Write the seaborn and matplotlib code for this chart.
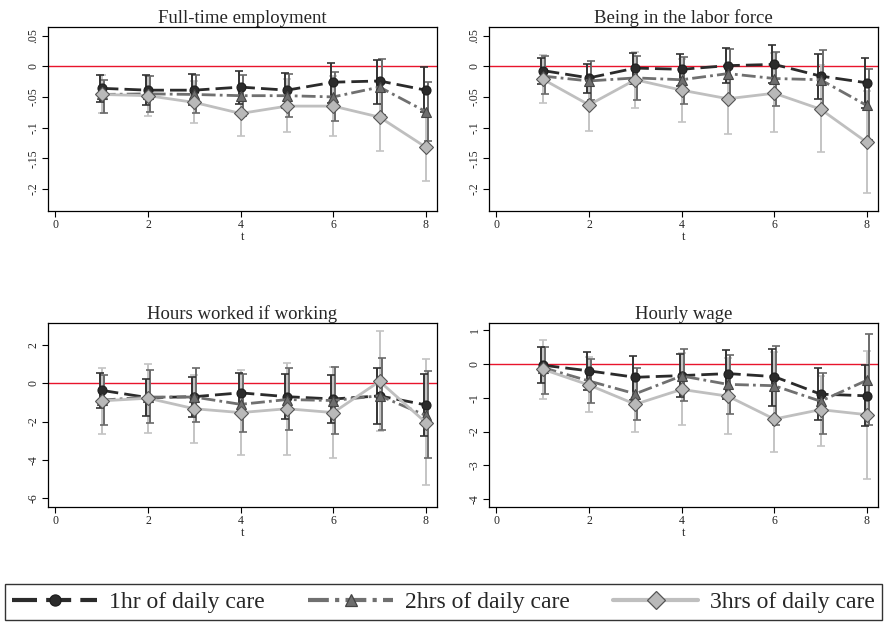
import numpy as np
import pandas as pd
import matplotlib
matplotlib.use('Agg')
import matplotlib.pyplot as plt
import seaborn as sns
from matplotlib.lines import Line2D

# --- dados ---
t = [1, 2, 3, 4, 5, 6, 7, 8]
grupos = ['1hr of daily care', '2hrs of daily care', '3hrs of daily care']
titulos = ['Full-time employment', 'Being in the labor force',
           'Hours worked if working', 'Hourly wage']

# Full-time employment
ft_est = [[-0.036, -0.039, -0.039, -0.034, -0.039, -0.026, -0.024, -0.039],
          [-0.046, -0.045, -0.046, -0.048, -0.048, -0.050, -0.034, -0.074],
          [-0.046, -0.048, -0.059, -0.077, -0.065, -0.065, -0.083, -0.132]]
ft_hi = [[-0.014, -0.015, -0.013, -0.008, -0.011, 0.006, 0.010, -0.001],
         [-0.022, -0.016, -0.014, -0.014, -0.012, -0.010, 0.012, -0.026],
         [-0.015, -0.016, -0.024, -0.040, -0.020, -0.016, -0.028, -0.078]]
ft_lo = [[-0.059, -0.063, -0.064, -0.061, -0.068, -0.060, -0.062, -0.075],
         [-0.076, -0.074, -0.077, -0.081, -0.083, -0.090, -0.080, -0.122],
         [-0.077, -0.081, -0.093, -0.114, -0.108, -0.113, -0.138, -0.187]]

# Being in the labor force
lf_est = [[-0.007, -0.019, -0.003, -0.005, 0.001, 0.003, -0.016, -0.027],
          [-0.016, -0.024, -0.019, -0.022, -0.012, -0.020, -0.022, -0.064],
          [-0.021, -0.063, -0.022, -0.039, -0.053, -0.044, -0.070, -0.124]]
lf_hi = [[0.014, 0.004, 0.022, 0.020, 0.030, 0.035, 0.020, 0.014],
         [0.016, 0.009, 0.016, 0.015, 0.028, 0.024, 0.027, -0.005],
         [0.019, -0.020, 0.023, 0.012, 0.005, 0.022, 0.002, -0.040]]
lf_lo = [[-0.029, -0.043, -0.029, -0.032, -0.027, -0.028, -0.053, -0.068],
         [-0.045, -0.055, -0.055, -0.061, -0.050, -0.065, -0.070, -0.120],
         [-0.060, -0.106, -0.068, -0.091, -0.110, -0.108, -0.140, -0.207]]

# Hours worked if working
hw_est = [[-0.37, -0.75, -0.70, -0.50, -0.70, -0.82, -0.66, -1.13],
          [-0.88, -0.72, -0.72, -1.10, -0.85, -0.90, -0.65, -1.68],
          [-0.92, -0.78, -1.33, -1.53, -1.33, -1.53, 0.10, -2.05]]
hw_hi = [[0.52, 0.23, 0.31, 0.56, 0.49, 0.43, 0.80, 0.49],
         [0.45, 0.67, 0.77, 0.48, 0.80, 0.87, 1.30, 0.65],
         [0.82, 1.03, 0.45, 0.68, 1.08, 0.85, 2.75, 1.25]]
hw_lo = [[-1.27, -1.70, -1.76, -1.55, -1.88, -2.05, -2.12, -2.75],
         [-2.20, -2.05, -2.00, -2.55, -2.45, -2.67, -2.45, -3.90],
         [-2.67, -2.60, -3.10, -3.75, -3.75, -3.90, -2.50, -5.30]]

# Hourly wage
wg_est = [[-0.03, -0.20, -0.39, -0.34, -0.28, -0.37, -0.89, -0.94],
          [-0.10, -0.50, -0.88, -0.35, -0.60, -0.64, -1.10, -0.48],
          [-0.15, -0.62, -1.19, -0.75, -0.95, -1.63, -1.35, -1.50]]
wg_hi = [[0.50, 0.35, 0.25, 0.30, 0.43, 0.46, -0.11, -0.03],
         [0.50, 0.16, -0.10, 0.45, 0.28, 0.55, -0.25, 0.88],
         [0.73, 0.20, -0.28, 0.33, 0.18, 0.35, -0.35, 0.40]]
wg_lo = [[-0.56, -0.76, -1.05, -0.98, -1.02, -1.24, -1.66, -1.84],
         [-0.88, -1.14, -1.67, -1.08, -1.48, -1.82, -2.07, -1.82],
         [-1.03, -1.42, -2.00, -1.80, -2.08, -2.60, -2.43, -3.42]]

yticks = [[0.05, 0, -0.05, -0.1, -0.15, -0.2],
          [0.05, 0, -0.05, -0.1, -0.15, -0.2],
          [2, 0, -2, -4, -6],
          [1, 0, -1, -2, -3, -4]]
ytick_labels = [['.05', '0', '-.05', '-.1', '-.15', '-.2'],
                ['.05', '0', '-.05', '-.1', '-.15', '-.2'],
                ['2', '0', '-2', '-4', '-6'],
                ['1', '0', '-1', '-2', '-3', '-4']]
xticks = [0, 2, 4, 6, 8]

paineis = [(ft_est, ft_lo, ft_hi), (lf_est, lf_lo, lf_hi),
           (hw_est, hw_lo, hw_hi), (wg_est, wg_lo, wg_hi)]
ylims = [(-0.236, 0.064), (-0.236, 0.064), (-6.44, 3.16), (-4.23, 1.23)]

# --- estilo ---
sns.set_style('ticks')
plt.rcParams['font.family'] = ['Liberation Serif', 'DejaVu Serif']

cor_linha = ['#2b2b2b', '#707070', '#bfbfbf']
cor_ci = ['#333333', '#6a6a6a', '#c4c4c4']
marcadores = ['o', '^', 'D']
face = ['#2b2b2b', '#6e6e6e', '#b9b9b9']
borda = ['#1e1e1e', '#444444', '#555555']
tam = [6.5, 7.5, 7.5]
tracos = [(6, 2.2), (5, 1.5, 1, 1.5), (None)]
desloc = [-0.045, 0.045, 0.0]

fig = plt.figure(figsize=(8.86, 6.22), dpi=100)
posicoes = [[0.0542, 0.6608, 0.439, 0.2958],
            [0.5519, 0.6608, 0.439, 0.2958],
            [0.0542, 0.1854, 0.439, 0.2958],
            [0.5519, 0.1854, 0.439, 0.2958]]

for k, (est, lo, hi) in enumerate(paineis):
    ax = fig.add_axes(posicoes[k])
    ax.axhline(0, color='#e8142c', lw=1.0, zorder=1)
    # intervalos de confianca
    for g in [2, 1, 0]:
        lo_a = np.array(lo[g])
        hi_a = np.array(hi[g])
        ax.errorbar(np.array(t) + desloc[g], (lo_a + hi_a) / 2, yerr=(hi_a - lo_a) / 2,
                    fmt='none', ecolor=cor_ci[g], elinewidth=1.4, capsize=3,
                    capthick=1.2, zorder=2)
    # linhas com marcadores
    for g in [1, 0, 2]:
        df = pd.DataFrame({'t': t, 'est': est[g]})
        sns.lineplot(data=df, x='t', y='est', ax=ax, color=cor_linha[g], lw=2.0,
                     marker=marcadores[g], markersize=tam[g],
                     markerfacecolor=face[g], markeredgecolor=borda[g],
                     markeredgewidth=0.8, zorder=3 + g)
        if tracos[g] is not None:
            ax.lines[-1].set_dashes(tracos[g])
    ax.set_xlim(-0.16, 8.24)
    ax.set_ylim(*ylims[k])
    ax.set_xticks(xticks)
    ax.set_xticklabels([str(v) for v in xticks])
    ax.set_yticks(yticks[k])
    ax.set_yticklabels(ytick_labels[k], rotation=90, va='center')
    ax.tick_params(labelsize=8.5, length=4, width=0.8, color='black', pad=2)
    ax.set_xlabel('t', fontsize=9, labelpad=0)
    ax.set_ylabel('')
    ax.set_title(titulos[k], fontsize=13.5, pad=3)
    for s in ax.spines.values():
        s.set_linewidth(0.9)
        s.set_color('black')

handles = []
for g in range(3):
    h = Line2D([], [], color=cor_linha[g], lw=3.0, marker=marcadores[g],
               markersize=tam[g] + 1.5, markerfacecolor=face[g],
               markeredgecolor=borda[g], markeredgewidth=0.9)
    if tracos[g] is not None:
        h.set_dashes(tracos[g])
    handles.append(h)

leg = fig.legend(handles, grupos, loc='lower left', ncol=3, mode='expand',
                 bbox_to_anchor=(5 / 886, 2 / 622, 877 / 886, 40 / 622),
                 fontsize=17, handlelength=3.6, numpoints=1, frameon=True,
                 fancybox=False, borderaxespad=0, handletextpad=0.5,
                 columnspacing=1.2, borderpad=0.3)
leg.get_frame().set_edgecolor('black')
leg.get_frame().set_linewidth(1.0)

plt.savefig('out.png', dpi=100)
